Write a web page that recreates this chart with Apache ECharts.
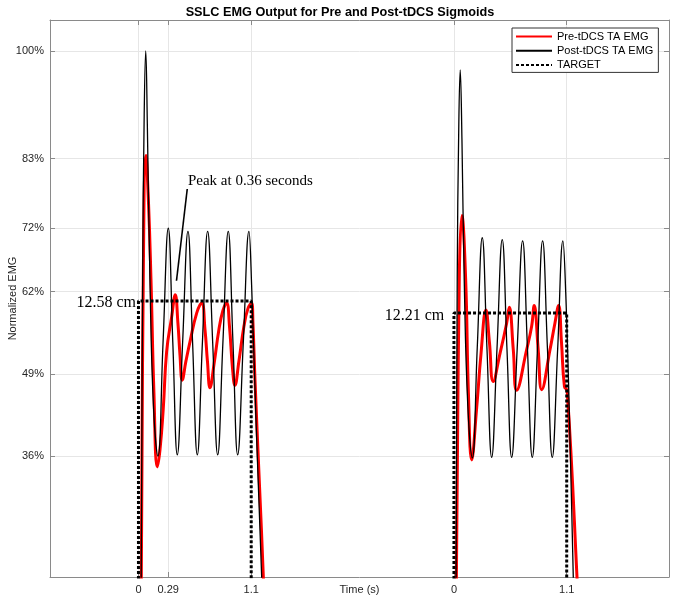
<!DOCTYPE html>
<html><head><meta charset="utf-8">
<script src="https://cdn.jsdelivr.net/npm/echarts@6/dist/echarts.min.js"></script>
<style>html,body{margin:0;padding:0;background:#fff}#c{width:680px;height:608px}</style>
</head><body><div id="c"></div>
<script>
// ---------- texts ----------
const chartTitle = 'SSLC EMG Output for Pre and Post-tDCS Sigmoids';
const seriesNames = ['Pre-tDCS TA EMG', 'Post-tDCS TA EMG', 'TARGET'];
const xAxisName = 'Time (s)';
const yAxisName = 'Normalized EMG';

// ---------- axes ----------
const yTickValues = [36, 49, 62, 72, 83, 100];          // %
const trialStart = [0, 3.078];                          // s, start of each trial on the shared time axis
const xTickLocal = [0, 0.29, 1.1, 0, 1.1];              // s, local trial time
const xTickTrial = [0, 0, 0, 1, 1];
const xTickLabels = ['0', '0.29', '1.1', '0', '1.1'];

// ---------- target ----------
const targetLevels = [60.5, 58.6];                      // %
const targetSpan = [0, 1.1];                            // s
const targetLabels = ['12.58 cm', '12.21 cm'];
const peakNote = 'Peak at 0.36 seconds';

// ---------- series: [local time s, normalized EMG %] ----------
const pre1 = [[0.022,0],[0.047,64],[0.073,83.5],[0.098,76],[0.122,64],[0.151,46],[0.183,34.3],
  [0.210,37],[0.242,43.5],[0.275,52.5],[0.324,58],[0.359,61.5],[0.385,57],[0.405,52],[0.427,48],
  [0.463,51],[0.502,54],[0.568,58.6],[0.617,60.2],[0.649,56],[0.673,51],[0.698,46.8],
  [0.737,50.5],[0.785,56],[0.824,59],[0.860,60.2],[0.888,56.5],[0.917,50],[0.941,47.2],
  [0.980,51],[1.029,56.5],[1.068,59.3],[1.104,60.2],[1.117,57],[1.137,48],[1.179,32],[1.218,17],[1.229,10]];
const post1 = [[0.022,0],[0.041,64],[0.056,90],[0.071,100],[0.087,88],[0.112,64],[0.146,44],[0.190,36],
  [0.240,54],[0.291,72],[0.335,54],[0.379,36.2],[0.431,54],[0.483,71.5],[0.528,54],[0.574,36.2],
  [0.624,54],[0.675,71.5],[0.724,54],[0.773,36.2],[0.824,54],[0.876,71.5],[0.922,54],[0.968,36.2],
  [1.023,54],[1.078,71.5],[1.104,63],[1.146,42],[1.202,17],[1.215,10]];
const pre2 = [[0.015,0],[0.052,64],[0.078,74],[0.114,64],[0.141,46],[0.173,35.4],[0.221,43.5],[0.263,52],
  [0.312,59.1],[0.346,54],[0.383,47.8],[0.449,52.2],[0.514,57],[0.540,59.5],[0.579,52.8],[0.612,46.4],
  [0.709,52.8],[0.758,56.5],[0.783,59.8],[0.822,52.8],[0.856,46.5],[0.937,52.8],[0.985,57],[1.021,59.8],
  [1.049,54],[1.078,47],[1.105,46.3],[1.200,17],[1.213,10]];
const post2 = [[0.018,0],[0.032,64],[0.047,88],[0.061,97],[0.078,86],[0.100,64],[0.135,44],[0.179,35.7],
  [0.227,53],[0.276,70.5],[0.322,53],[0.368,35.8],[0.420,53],[0.471,70.2],[0.517,53],[0.563,35.8],
  [0.617,53],[0.670,70],[0.717,53],[0.764,35.8],[0.815,53],[0.865,70],[0.912,53],[0.959,35.8],
  [1.012,53],[1.063,70],[1.090,62],[1.127,42],[1.164,17],[1.176,10]];

// ---------- annotation anchors (shared time s, %) ----------
const targetLabelAnchors = [[-0.024, 60.3], [2.983, 58.1]];
const peakTextAnchor = [0.483, 79.5];
const peakPointer = [[0.476, 78.2], [0.371, 63.7]];

// ---------- build ----------
const SANS = '"Liberation Sans", Arial, Helvetica, sans-serif';
const SERIF = '"Liberation Serif", "Times New Roman", serif';
const xTickPos = xTickLocal.map((t, i) => t + trialStart[xTickTrial[i]]);
const shift = (arr, k) => arr.map(p => [p[0] + trialStart[k], p[1]]);
const targetData = k => [[targetSpan[0], 0], [targetSpan[0], targetLevels[k]], [targetSpan[1], targetLevels[k]], [targetSpan[1], 0]];

const X_MIN = -0.863, X_MAX = 5.176, Y_MIN = 16.9, Y_MAX = 104.9;
const AX = '#8a8a8a';

function xFmt(v) {
  for (let i = 0; i < xTickPos.length; i++) if (Math.abs(xTickPos[i] - v) < 1e-6) return xTickLabels[i];
  return '';
}

const lineBase = { type: 'line', showSymbol: false, symbol: 'none', smooth: 0.45, clip: true,
  animation: false, emphasis: { disabled: true }, silent: true };

const chart = echarts.init(document.getElementById('c'), null, { renderer: 'canvas' });
const option = {
  animation: false,
  backgroundColor: '#fff',
  title: { text: chartTitle, left: 'center', top: 1,
    textStyle: { fontFamily: SANS, fontSize: 12.7, fontWeight: 'bold', color: '#000' } },
  legend: {
    data: seriesNames, orient: 'vertical', left: 512, top: 28,
    itemWidth: 36, itemHeight: 12, itemGap: 3.2, padding: [3, 5, 2, 3],
    borderColor: '#333', borderWidth: 1, backgroundColor: '#fff',
    itemStyle: { opacity: 0 },
    textStyle: { fontFamily: SANS, fontSize: 11, color: '#000' },
    selectedMode: false
  },
  grid: { left: 50, right: 11, top: 20, bottom: 31, containLabel: false, outerBoundsMode: 'none' },
  xAxis: [{
    type: 'value', min: X_MIN, max: X_MAX, position: 'bottom',
    name: xAxisName, nameLocation: 'middle', nameGap: 7, nameMoveOverlap: false,
    nameTextStyle: { fontFamily: SANS, fontSize: 11, color: '#262626', verticalAlign: 'top' },
    axisLine: { show: true, onZero: false, lineStyle: { color: AX } },
    axisTick: { show: true, inside: true, length: 5, customValues: xTickPos, lineStyle: { color: AX } },
    axisLabel: { show: true, customValues: xTickPos, formatter: xFmt, margin: 7, fontFamily: SANS, fontSize: 11, color: '#262626' },
    splitLine: { show: true, lineStyle: { color: '#e6e6e6' } }
  }, {
    type: 'value', min: X_MIN, max: X_MAX, position: 'top',
    axisLine: { show: true, onZero: false, lineStyle: { color: AX } },
    axisTick: { show: true, inside: true, length: 5, customValues: xTickPos, lineStyle: { color: AX } },
    axisLabel: { show: false }, splitLine: { show: false }
  }],
  yAxis: [{
    type: 'value', min: Y_MIN, max: Y_MAX, position: 'left',
    name: yAxisName, nameLocation: 'middle', nameGap: 32, nameRotate: 90, nameMoveOverlap: false,
    nameTextStyle: { fontFamily: SANS, fontSize: 11, color: '#262626' },
    axisLine: { show: true, onZero: false, lineStyle: { color: AX } },
    axisTick: { show: true, inside: true, length: 5, customValues: yTickValues, lineStyle: { color: AX } },
    axisLabel: { show: true, customValues: yTickValues, formatter: v => v + '%', margin: 6, fontFamily: SANS, fontSize: 11, color: '#262626' },
    splitLine: { show: true, lineStyle: { color: '#e6e6e6' } }
  }, {
    type: 'value', min: Y_MIN, max: Y_MAX, position: 'right',
    axisLine: { show: true, onZero: false, lineStyle: { color: AX } },
    axisTick: { show: true, inside: true, length: 5, customValues: yTickValues, lineStyle: { color: AX } },
    axisLabel: { show: false }, splitLine: { show: false }
  }],
  series: [
    { ...lineBase, name: seriesNames[0], data: shift(pre1, 0), z: 2, lineStyle: { color: '#ff0000', width: 3 }, itemStyle: { color: '#ff0000' } },
    { ...lineBase, name: seriesNames[0], data: shift(pre2, 1), z: 2, lineStyle: { color: '#ff0000', width: 3 }, itemStyle: { color: '#ff0000' } },
    { ...lineBase, name: seriesNames[1], data: shift(post1, 0), z: 3, lineStyle: { color: '#000', width: 1.3 }, itemStyle: { color: '#000' } },
    { ...lineBase, name: seriesNames[1], data: shift(post2, 1), z: 3, lineStyle: { color: '#000', width: 1.3 }, itemStyle: { color: '#000' } },
    { ...lineBase, smooth: false, name: seriesNames[2], data: shift(targetData(0), 0), z: 4, lineStyle: { color: '#000', width: 3, type: [3, 2], cap: 'butt' }, itemStyle: { color: '#000' } },
    { ...lineBase, smooth: false, name: seriesNames[2], data: shift(targetData(1), 1), z: 4, lineStyle: { color: '#000', width: 3, type: [3, 2], cap: 'butt' }, itemStyle: { color: '#000' } }
  ]
};
chart.setOption(option);

const px = p => chart.convertToPixel({ xAxisIndex: 0, yAxisIndex: 0 }, p);
const graphics = [];
targetLabels.forEach((txt, i) => {
  const p = px(targetLabelAnchors[i]);
  graphics.push({ type: 'text', x: p[0], y: p[1], z: 10,
    style: { text: txt, fill: '#000', font: '16px ' + SERIF, textAlign: 'right', textVerticalAlign: 'middle' } });
});
const pt = px(peakTextAnchor);
graphics.push({ type: 'text', x: pt[0], y: pt[1], z: 10,
  style: { text: peakNote, fill: '#000', font: '15px ' + SERIF, textAlign: 'left', textVerticalAlign: 'middle' } });
const a = px(peakPointer[0]), b = px(peakPointer[1]);
graphics.push({ type: 'line', z: 10, shape: { x1: a[0], y1: a[1], x2: b[0], y2: b[1] },
  style: { stroke: '#000', lineWidth: 1.6 } });
chart.setOption({ graphic: graphics });
</script>
</body></html>
